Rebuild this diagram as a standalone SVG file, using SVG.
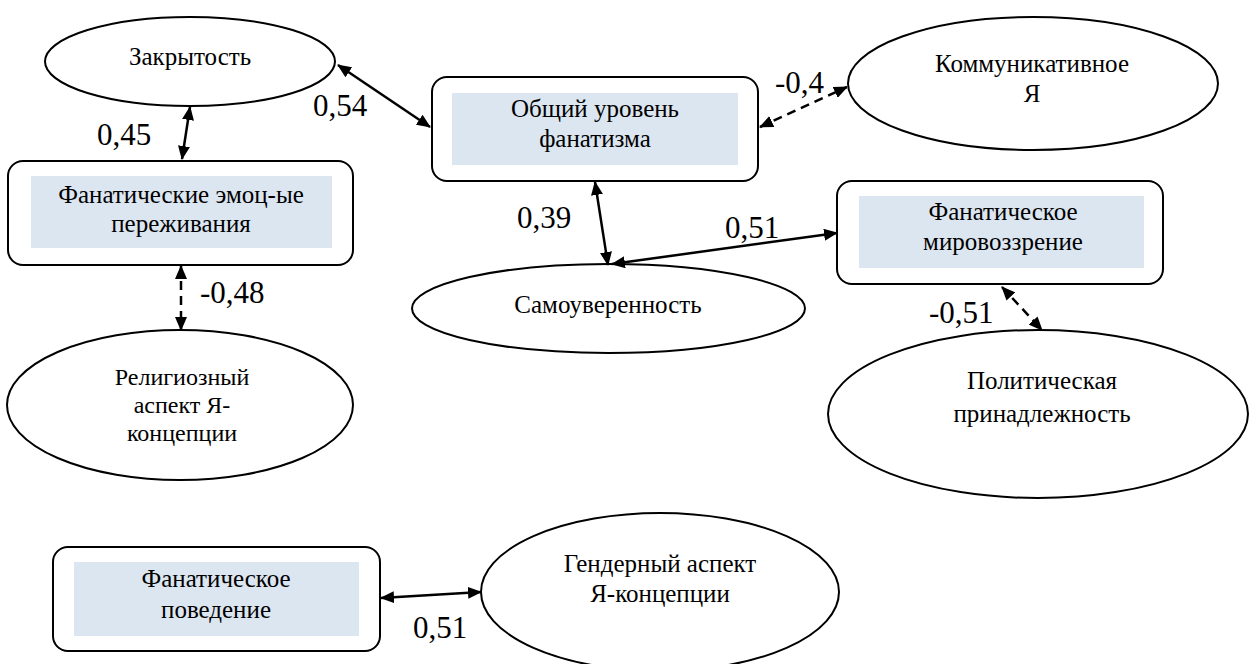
<svg xmlns="http://www.w3.org/2000/svg" width="1249" height="664" viewBox="0 0 1249 664">
<style>
.bg{fill:#ffffff}
.box{fill:#ffffff;stroke:#000;stroke-width:2}
.inner{fill:#dce6f1;stroke:none}
.ell{fill:#ffffff;stroke:#000;stroke-width:2}
.t{font-family:"Liberation Serif","Times New Roman",Times,Tinos,"Noto Serif","DejaVu Serif",serif;font-size:25px;fill:#000;text-anchor:middle}
.s{font-size:24px}
.n{font-family:"Liberation Serif","Times New Roman",Times,Tinos,"Noto Serif","DejaVu Serif",serif;font-size:31px;fill:#000}
.c{fill:none;stroke:#000;stroke-width:2.5}
.d{stroke-dasharray:9 6}
</style>
<defs>
<marker id="ah" viewBox="0 0 14 12" refX="13" refY="6" markerWidth="14" markerHeight="12" markerUnits="userSpaceOnUse" orient="auto-start-reverse">
<path d="M0,0 L14,6 L0,12 z" fill="#000"/>
</marker>
</defs>
<rect class="bg" x="0" y="0" width="1249" height="664"/>
<g id="zakrytost">
<ellipse class="ell" cx="190" cy="61.5" rx="145" ry="44.5"/>
<text class="t" x="190" y="65">Закрытость</text>
</g>

<g id="emotsii">
<rect class="box" x="8" y="161" width="345" height="104" rx="15"/>
<rect class="inner" x="31" y="176" width="301" height="72"/>
<text class="t" x="181" y="203">Фанатические эмоц-ые</text>
<text class="t" x="181" y="232">переживания</text>
</g>

<g id="obshiy">
<rect class="box" x="432" y="77" width="326" height="104" rx="15"/>
<rect class="inner" x="452" y="93" width="286" height="72"/>
<text class="t" x="595" y="117">Общий уровень</text>
<text class="t" x="595" y="147">фанатизма</text>
</g>

<g id="kommunikativnoe">
<ellipse class="ell" cx="1033" cy="83.5" rx="185" ry="66.5"/>
<text class="t" x="1032" y="72">Коммуникативное</text>
<text class="t" x="1032" y="102">Я</text>
</g>

<g id="mirovozzrenie">
<rect class="box" x="837" y="181" width="326" height="103" rx="15"/>
<rect class="inner" x="859" y="196" width="285" height="72"/>
<text class="t" x="1003" y="220">Фанатическое</text>
<text class="t" x="1003" y="250">мировоззрение</text>
</g>

<g id="samouverennost">
<ellipse class="ell" cx="608.5" cy="308.5" rx="196.5" ry="44.5"/>
<text class="t" x="608" y="313">Самоуверенность</text>
</g>

<g id="religioznyi">
<ellipse class="ell" cx="180" cy="405" rx="173" ry="75"/>
<text class="t s" x="182" y="385">Религиозный</text>
<text class="t s" x="182" y="413">аспект Я-</text>
<text class="t s" x="182" y="441">концепции</text>
</g>

<g id="politicheskaya">
<ellipse class="ell" cx="1038" cy="414" rx="210" ry="84"/>
<text class="t" x="1042" y="389">Политическая</text>
<text class="t" x="1042" y="422">принадлежность</text>
</g>

<g id="povedenie">
<rect class="box" x="53" y="547" width="327" height="104" rx="15"/>
<rect class="inner" x="74" y="562" width="285" height="74"/>
<text class="t" x="216" y="587">Фанатическое</text>
<text class="t" x="216" y="618">поведение</text>
</g>

<g id="gendernyi">
<ellipse class="ell" cx="660" cy="592" rx="179" ry="79"/>
<text class="t" x="660" y="572">Гендерный аспект</text>
<text class="t" x="660" y="602">Я-концепции</text>
</g>

<g id="connectors">
<line class="c" x1="190" y1="107" x2="182" y2="159" marker-start="url(#ah)" marker-end="url(#ah)"/>
<line class="c" x1="338" y1="65" x2="430" y2="127" marker-start="url(#ah)" marker-end="url(#ah)"/>
<line class="c d" x1="760" y1="127" x2="847" y2="87" marker-start="url(#ah)" marker-end="url(#ah)"/>
<line class="c" x1="595" y1="182" x2="608" y2="265" marker-start="url(#ah)" marker-end="url(#ah)"/>
<line class="c" x1="612" y1="264" x2="837" y2="233" marker-start="url(#ah)" marker-end="url(#ah)"/>
<line class="c d" x1="181" y1="266" x2="181" y2="330" marker-start="url(#ah)" marker-end="url(#ah)"/>
<line class="c d" x1="1002" y1="287" x2="1042" y2="330" marker-start="url(#ah)" marker-end="url(#ah)"/>
<line class="c" x1="381" y1="598" x2="481" y2="592" marker-start="url(#ah)" marker-end="url(#ah)"/>
</g>

<g id="labels">
<text class="n" x="97" y="145">0,45</text>
<text class="n" x="313" y="116">0,54</text>
<text class="n" x="775" y="93">-0,4</text>
<text class="n" x="517" y="228">0,39</text>
<text class="n" x="725" y="238">0,51</text>
<text class="n" x="200" y="303">-0,48</text>
<text class="n" x="929" y="323">-0,51</text>
<text class="n" x="413" y="638">0,51</text>
</g>
</svg>
